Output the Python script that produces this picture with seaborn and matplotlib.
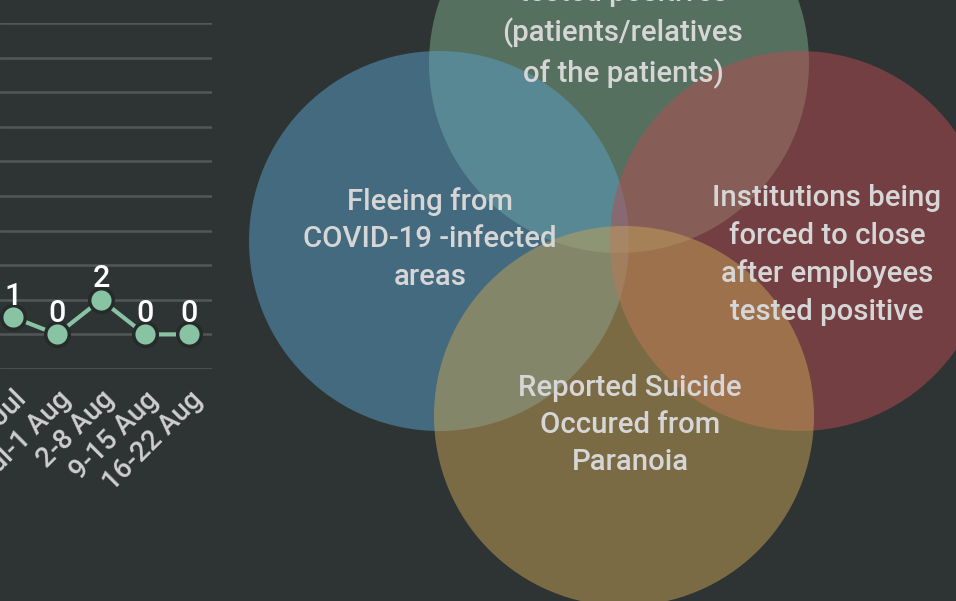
import pandas as pd
import matplotlib.pyplot as plt
import matplotlib.patches as mpatches
import seaborn as sns

# data -------------------------------------------------------------
weeks = ["19-25 Jul", "26 Jul-1 Aug", "2-8 Aug", "9-15 Aug", "16-22 Aug"]
cases = [1, 0, 2, 0, 0]

venn_labels = [
    "tested positives\n(patients/relatives\nof the patients)",
    "Fleeing from\nCOVID-19 -infected\nareas",
    "Institutions being\nforced to close\nafter employees\ntested positive",
    "Reported Suicide\nOccured from\nParanoia",
]
venn_colors = ["#7ead8b", "#58a1c9", "#b84b51", "#c6a357"]

bg = "#2e3333"
sns.set_theme(style="dark", rc={"figure.facecolor": bg, "axes.facecolor": bg})
plt.rcParams["font.family"] = ["Roboto", "DejaVu Sans"]

fig = plt.figure(figsize=(9.56, 6.01), dpi=100)
W, H = 956, 601

#--------------------------------------------------------------------------------------
# circles (pixel coords over whole figure)
vax = fig.add_axes([0, 0, 1, 1])
vax.set_xlim(0, W)
vax.set_ylim(H, 0)
vax.axis("off")
vax.patch.set_alpha(0)

centers = [(619, 63), (439, 241), (800, 241), (624, 416)]
text_pos = [(623, 34), (430, 239), (827, 255), (630, 425)]
for (cx, cy), col in zip(centers, venn_colors):
    vax.add_patch(mpatches.Circle((cx, cy), 190, color=col, alpha=0.5, lw=0))
for (tx, ty), lab in zip(text_pos, venn_labels):
    vax.text(tx, ty, lab, ha="center", va="center", fontsize=21.2,
             fontweight="medium", color="#d6d6d6", linespacing=1.43,
             multialignment="center")

#--------------------------------------------------------------------------------------
# line chart, mostly cropped off to the left
ax = fig.add_axes([0, 1 - 369 / H, 212 / W, 346 / H])
ax.set_facecolor("none")
df = pd.DataFrame({"week": range(len(weeks)), "cases": cases})
sns.lineplot(data=df, x="week", y="cases", ax=ax, color="#88c4a3", lw=3,
             marker="o", markersize=17, markeredgecolor="#262a2a",
             markeredgewidth=2.5)
for i, v in enumerate(cases):
    ax.annotate(str(v), (i, v), xytext=(0, 9), textcoords="offset points",
                ha="center", va="baseline", fontsize=22, fontweight="medium",
                color="white")

ax.set_xlim(-13 / 44, 4 + 23 / 44)
ax.set_ylim(-2, 18)
ax.set_yticks(range(-2, 19, 2))
ax.yaxis.grid(True, color="#525858", lw=1.8)
ax.set_yticklabels([])
ax.tick_params(axis="y", length=0)
ax.set_xticks(range(len(weeks)))
ax.set_xticklabels(weeks, rotation=45, ha="right", va="top",
                   rotation_mode="anchor", fontsize=20, fontweight="medium",
                   color="#cfcfcf")
ax.tick_params(axis="x", length=0, pad=12)
ax.set_xlabel("")
ax.set_ylabel("")
for s in ax.spines.values():
    s.set_visible(False)

plt.savefig("out.png", dpi=100, facecolor=bg)
